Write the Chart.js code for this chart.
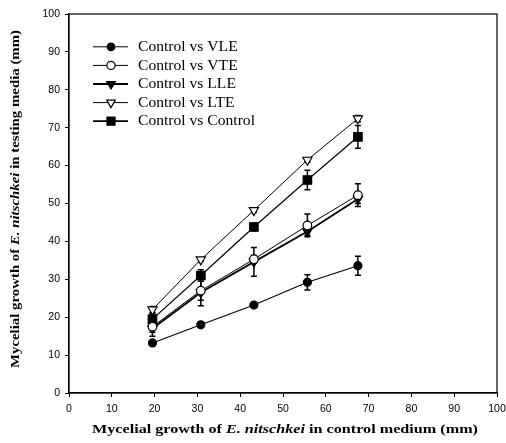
<!DOCTYPE html>
<html>
<head>
<meta charset="utf-8">
<script src="https://cdn.jsdelivr.net/npm/chart.js@4"></script>
<style>
html,body{margin:0;padding:0;background:#fff;}
#wrap{width:506px;height:443px;}
</style>
</head>
<body>
<div id="wrap"><canvas id="c" width="506" height="443"></canvas></div>
<script>
// ---- data ----
const xValues = [19.5, 30.8, 43.2, 55.7, 67.5];
const seriesLabels = ["Control vs VLE", "Control vs VTE", "Control vs LLE", "Control vs LTE", "Control vs Control"];
const vleValues  = [13.2, 18.0, 23.2, 29.2, 33.6];
const vteValues  = [17.5, 27.0, 35.3, 44.2, 52.2];
const lleValues  = [17.0, 26.5, 34.6, 42.6, 51.2];
const lteValues  = [22.0, 35.2, 48.2, 61.5, 72.4];
const ctrlValues = [19.5, 31.0, 43.8, 56.2, 67.6];
const vleErr  = [0.5, 0.5, 0.5, 2.0, 2.5];
const vteErr  = [1.5, 2.5, 1.0, 3.0, 3.0];
const lleErr  = [2.0, 3.5, 3.8, 1.0, 1.2];
const lteErr  = [0.8, 0.5, 0.6, 0.6, 0.8];
const ctrlErr = [1.5, 1.5, 1.0, 2.6, 3.0];
const xTicks = [0,10,20,30,40,50,60,70,80,90,100];
const yTicks = [0,10,20,30,40,50,60,70,80,90,100];
const xTitleParts = [["Mycelial growth of ", false], ["E. nitschkei", true], [" in control medium (mm)", false]];
const yTitleParts = [["Mycelial growth of ", false], ["E. nitschkei", true], [" in testing media (mm)", false]];

const allValues = [vleValues, vteValues, lleValues, lteValues, ctrlValues];
const allErr = [vleErr, vteErr, lleErr, lteErr, ctrlErr];
const styles = [
  {pointStyle:'circle', radius:4, rotation:0, fill:'#000', line:1.1},
  {pointStyle:'circle', radius:4.3, rotation:0, fill:'#fff', line:1},
  {pointStyle:'triangle', radius:5.3, rotation:180, fill:'#000', line:1.8},
  {pointStyle:'triangle', radius:5.3, rotation:180, fill:'#fff', line:1},
  {pointStyle:'rect', radius:6, rotation:0, fill:'#000', line:1.2}
];

const datasets = allValues.map((vals, i) => ({
  label: seriesLabels[i],
  data: vals.map((v, j) => ({x: xValues[j], y: v})),
  showLine: true,
  borderColor: '#000',
  borderWidth: styles[i].line,
  pointStyle: styles[i].pointStyle,
  pointRadius: styles[i].radius,
  pointRotation: styles[i].rotation,
  pointBackgroundColor: styles[i].fill,
  pointBorderColor: '#000',
  pointBorderWidth: 1.2,
  errors: allErr[i]
}));

const errorBars = {
  id: 'errorBars',
  beforeDatasetsDraw(chart) {
    const ctx = chart.ctx, xs = chart.scales.x, ys = chart.scales.y;
    ctx.save();
    ctx.strokeStyle = '#000';
    ctx.lineWidth = 1.5;
    chart.data.datasets.forEach(ds => {
      ds.data.forEach((p, j) => {
        const e = ds.errors[j];
        const px = xs.getPixelForValue(p.x);
        const t = ys.getPixelForValue(p.y + e), b = ys.getPixelForValue(p.y - e);
        ctx.beginPath();
        ctx.moveTo(px, t); ctx.lineTo(px, b);
        ctx.moveTo(px - 3, t); ctx.lineTo(px + 3, t);
        ctx.moveTo(px - 3, b); ctx.lineTo(px + 3, b);
        ctx.stroke();
      });
    });
    ctx.restore();
  }
};

// draw mixed-style title centred at (cx, cy), stretched horizontally to targetWidth
function drawParts(ctx, parts, size, cx, cy, targetWidth) {
  const fonts = parts.map(p => (p[1] ? 'italic ' : '') + 'bold ' + size + 'px "Liberation Serif"');
  let total = 0;
  const widths = parts.map((p, i) => { ctx.font = fonts[i]; const w = ctx.measureText(p[0]).width; total += w; return w; });
  const sx = targetWidth / total;
  ctx.save();
  ctx.translate(cx, cy);
  ctx.scale(sx, 1);
  let x = -total / 2;
  ctx.textBaseline = 'middle';
  ctx.textAlign = 'left';
  parts.forEach((p, i) => { ctx.font = fonts[i]; ctx.fillText(p[0], x, 0); x += widths[i]; });
  ctx.restore();
}

const decorations = {
  id: 'decorations',
  afterDraw(chart) {
    const ctx = chart.ctx, a = chart.chartArea;
    ctx.save();
    ctx.strokeStyle = '#000';
    ctx.lineWidth = 1.2;
    ctx.strokeRect(a.left, a.top, a.right - a.left, a.bottom - a.top);
    ctx.fillStyle = '#000';
    // axis titles
    drawParts(ctx, xTitleParts, 13, 285, 430, 386);
    ctx.save();
    ctx.translate(16, 199);
    ctx.rotate(-Math.PI / 2);
    drawParts(ctx, yTitleParts, 13, 0, 0, 338);
    ctx.restore();
    // legend
    const x0 = 93, x1 = 128, mx = 111, tx = 138;
    ctx.font = '14px "Liberation Serif"';
    const longest = Math.max(...chart.data.datasets.map(d => ctx.measureText(d.label).width));
    const lsx = 117 / longest;
    chart.data.datasets.forEach((ds, i) => {
      const y = 46.8 + i * 18.6;
      ctx.strokeStyle = '#000';
      ctx.lineWidth = (i === 2 || i === 4) ? 1.8 : 1;
      ctx.beginPath(); ctx.moveTo(x0, y); ctx.lineTo(x1, y); ctx.stroke();
      ctx.fillStyle = styles[i].fill;
      ctx.strokeStyle = '#000';
      ctx.lineWidth = 1.2;
      Chart.helpers.drawPoint(ctx, {pointStyle: styles[i].pointStyle, radius: styles[i].radius * 0.95, rotation: styles[i].rotation, borderWidth: 1.2}, mx, y);
      ctx.fillStyle = '#000';
      ctx.save();
      ctx.translate(tx, y + 0.5);
      ctx.scale(lsx, 1);
      ctx.font = '14px "Liberation Serif"';
      ctx.textAlign = 'left';
      ctx.textBaseline = 'middle';
      ctx.fillText(ds.label, 0, 0);
      ctx.restore();
    });
    ctx.restore();
  }
};

new Chart(document.getElementById('c'), {
  type: 'scatter',
  data: { datasets },
  options: {
    responsive: false,
    animation: false,
    layout: { padding: { top: 14, right: 9, left: 0, bottom: 0 } },
    plugins: { legend: { display: false }, tooltip: { enabled: false } },
    scales: {
      x: {
        type: 'linear', min: 0, max: 100,
        afterBuildTicks(s) { s.ticks = xTicks.map(v => ({value: v})); },
        afterFit(s) { s.height = 50; s.paddingLeft = 0; s.paddingRight = 0; },
        ticks: { color: '#000', font: { family: '"Liberation Sans"', size: 10.5 }, padding: 6, maxRotation: 0 },
        grid: { drawOnChartArea: false, color: '#000', tickLength: 4, lineWidth: 1 },
        border: { color: '#000', width: 1.2 }
      },
      y: {
        type: 'linear', min: 0, max: 100,
        afterBuildTicks(s) { s.ticks = yTicks.map(v => ({value: v})); },
        afterFit(s) { s.width = 69; s.paddingTop = 0; s.paddingBottom = 0; },
        ticks: { color: '#000', font: { family: '"Liberation Sans"', size: 10.5 }, padding: 5 },
        grid: { drawOnChartArea: false, color: '#000', tickLength: 4, lineWidth: 1 },
        border: { color: '#000', width: 1.2 }
      }
    }
  },
  plugins: [errorBars, decorations]
});
</script>
</body>
</html>
